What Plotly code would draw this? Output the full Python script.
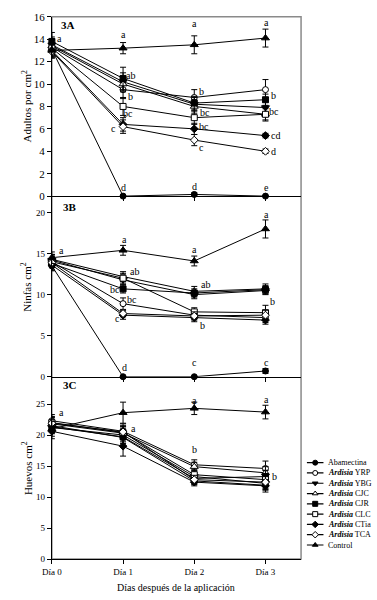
import plotly.graph_objects as go

# ---------------- data ----------------
days = [0, 1, 2, 3]
day_labels = ["Día 0", "Día 1", "Día 2", "Día 3"]

treatments = ["Abamectina", "YRP", "YBG", "CJC", "CJR", "CLC", "CTia", "TCA", "Control"]
legend_labels = ["Abamectina",
                 "<b><i>Ardisia</i></b> YRP", "<b><i>Ardisia</i></b> YBG",
                 "<b><i>Ardisia</i></b> CJC", "<b><i>Ardisia</i></b> CJR",
                 "<b><i>Ardisia</i></b> CLC", "<b><i>Ardisia</i></b> CTia",
                 "<b><i>Ardisia</i></b> TCA", "Control"]

# 3A  adults per cm2
adults = {
    "Abamectina": [13.1, 0.0, 0.15, 0.0],
    "YRP":        [13.3, 9.5, 8.8, 9.5],
    "YBG":        [13.5, 10.2, 8.2, 7.9],
    "CJC":        [13.4, 10.0, 8.0, 7.3],
    "CJR":        [13.8, 10.5, 8.3, 8.6],
    "CLC":        [13.2, 8.0, 7.0, 7.3],
    "CTia":       [13.0, 6.4, 6.0, 5.4],
    "TCA":        [12.9, 6.2, 5.0, 4.0],
    "Control":    [13.0, 13.2, 13.5, 14.1],
}
adults_err = {
    "Abamectina": [0.6, 0.05, 0.15, 0.05],
    "YRP":        [0.7, 0.8, 0.7, 0.9],
    "YBG":        [0.7, 0.8, 0.6, 0.5],
    "CJC":        [0.6, 0.7, 0.6, 0.6],
    "CJR":        [0.8, 1.0, 0.6, 0.5],
    "CLC":        [0.7, 0.8, 0.6, 0.5],
    "CTia":       [0.6, 0.6, 0.5, 0.2],
    "TCA":        [0.6, 0.6, 0.5, 0.2],
    "Control":    [0.6, 0.5, 0.8, 0.8],
}

# 3B  nymphs per cm2
nymphs = {
    "Abamectina": [13.5, 0.0, 0.0, 0.7],
    "YRP":        [14.0, 8.9, 7.5, 7.2],
    "YBG":        [14.2, 11.8, 10.0, 10.5],
    "CJC":        [14.3, 12.2, 10.4, 10.7],
    "CJR":        [13.8, 10.7, 10.2, 10.6],
    "CLC":        [14.0, 12.0, 7.9, 7.8],
    "CTia":       [13.6, 7.5, 7.2, 6.9],
    "TCA":        [13.9, 7.7, 7.4, 7.5],
    "Control":    [14.5, 15.4, 14.1, 18.0],
}
nymphs_err = {
    "Abamectina": [0.6, 0.05, 0.05, 0.3],
    "YRP":        [0.7, 0.7, 0.5, 0.6],
    "YBG":        [0.7, 0.6, 0.5, 0.5],
    "CJC":        [0.6, 0.6, 0.6, 0.6],
    "CJR":        [0.8, 0.5, 0.5, 0.5],
    "CLC":        [0.7, 0.6, 0.5, 0.9],
    "CTia":       [0.6, 0.5, 0.5, 0.5],
    "TCA":        [0.6, 0.4, 0.5, 0.6],
    "Control":    [0.7, 0.6, 0.6, 1.1],
}

# 3C  eggs per cm2
eggs = {
    "Abamectina": [21.5, 19.6, 12.6, 11.9],
    "YRP":        [22.3, 20.6, 15.2, 14.6],
    "YBG":        [21.2, 20.0, 13.3, 12.2],
    "CJC":        [21.8, 20.3, 14.9, 13.9],
    "CJR":        [21.3, 19.7, 13.0, 13.3],
    "CLC":        [22.0, 20.4, 13.6, 12.8],
    "CTia":       [20.6, 18.2, 12.4, 11.8],
    "TCA":        [21.9, 20.5, 12.8, 12.4],
    "Control":    [21.0, 23.6, 24.3, 23.7],
}
eggs_err = {
    "Abamectina": [1.0, 1.0, 0.6, 0.8],
    "YRP":        [1.0, 1.2, 0.8, 1.2],
    "YBG":        [1.0, 1.0, 0.7, 1.0],
    "CJC":        [1.0, 1.0, 0.7, 1.0],
    "CJR":        [1.0, 1.0, 0.7, 1.0],
    "CLC":        [1.0, 1.0, 0.7, 1.0],
    "CTia":       [1.2, 1.6, 0.6, 1.0],
    "TCA":        [1.0, 1.0, 0.7, 1.0],
    "Control":    [1.2, 1.7, 1.0, 1.1],
}

# significance letters: (day, value, letter)
letters_a = [(0.11, 14.07, "a"), (1.0, 14.42, "a"), (1.10, 10.75, "ab"), (1.11, 8.92, "b"),
             (1.07, 7.34, "bc"), (0.86, 6.03, "c"), (1.0, 0.79, "d"),
             (2.01, 15.4, "a"), (2.10, 9.33, "b"), (2.15, 7.43, "bc"), (2.14, 6.2, "bc"),
             (2.10, 4.37, "c"), (2.01, 0.9, "d"),
             (3.01, 15.45, "a"), (3.11, 8.94, "b"), (3.12, 7.58, "bc"), (3.14, 5.39, "cd"),
             (3.11, 4.02, "d"), (3.02, 0.73, "e")]
letters_b = [(0.13, 15.38, "a"), (1.02, 16.7, "a"), (1.16, 12.8, "ab"), (0.88, 10.6, "bc"),
             (1.13, 9.46, "bc"), (0.92, 7.07, "c"), (1.02, 1.1, "d"),
             (2.01, 15.5, "a"), (2.16, 11.2, "ab"), (2.12, 6.24, "b"), (2.01, 1.7, "c"),
             (3.02, 19.7, "a"), (3.10, 9.2, "b"), (3.02, 1.7, "c")]
letters_c = [(0.13, 23.7, "a"), (1.14, 21.05, "a"),
             (2.01, 25.5, "a"), (2.01, 17.6, "b"),
             (3.02, 25.8, "a"), (3.12, 13.3, "b")]

# ---------------- styles ----------------
FONT = "Liberation Serif, Times New Roman, serif"
symbols = {"Abamectina": ("circle", "black"), "YRP": ("circle", "white"),
           "YBG": ("triangle-down", "black"), "CJC": ("triangle-up", "white"),
           "CJR": ("square", "black"), "CLC": ("square", "white"),
           "CTia": ("diamond", "black"), "TCA": ("diamond", "white"),
           "Control": ("triangle-up", "black")}

W, H = 377, 600
PX0, PX1 = 43, 299
panels_px = [(11, 194), (194, 378.3), (378.3, 564.3)]


def ydom(top, bottom):
    return [1 - bottom / H, 1 - top / H]


fig = go.Figure()

panel_data = [(adults, adults_err), (nymphs, nymphs_err), (eggs, eggs_err)]
for p, (vals, errs) in enumerate(panel_data):
    xa = "x" if p == 0 else f"x{p+1}"
    ya = "y" if p == 0 else f"y{p+1}"
    for t in treatments:
        sym, col = symbols[t]
        fig.add_trace(go.Scatter(
            x=days, y=vals[t], xaxis=xa, yaxis=ya, mode="lines+markers",
            line=dict(color="black", width=1),
            marker=dict(symbol=sym, color=col, size=6 if "triangle" not in sym else 7,
                        line=dict(color="black", width=1)),
            error_y=dict(type="data", array=errs[t], color="black", thickness=1, width=3),
            cliponaxis=False, showlegend=False, hoverinfo="skip"))

# ---- manual legend (compact rows) ----
for i, t in enumerate(treatments):
    sym, col = symbols[t]
    yrow = 466 + 10.5 * i
    fig.add_trace(go.Scatter(x=[305, 322], y=[yrow, yrow], xaxis="x4", yaxis="y4",
                             mode="lines", line=dict(color="black", width=1.2),
                             showlegend=False, hoverinfo="skip"))
    fig.add_trace(go.Scatter(x=[313.5], y=[yrow], xaxis="x4", yaxis="y4", mode="markers",
                             marker=dict(symbol=sym, color=col, size=5,
                                         line=dict(color="black", width=1)),
                             showlegend=False, hoverinfo="skip"))
    fig.add_annotation(x=325, y=yrow, xref="x4", yref="y4", text=legend_labels[i],
                       showarrow=False, xanchor="left", yanchor="middle",
                       font=dict(family=FONT, size=8, color="black"))

xcommon = dict(domain=[PX0 / W, PX1 / W], range=[0, 3.5], tickvals=days, ticktext=day_labels,
               showline=True, linecolor="black", linewidth=1, ticks="outside", ticklen=4,
               tickcolor="black", showgrid=False, zeroline=False,
               tickfont=dict(family=FONT, size=9, color="black"))
ycommon = dict(showline=True, linecolor="black", linewidth=1, ticks="outside", ticklen=4,
               tickcolor="black", showgrid=False, zeroline=False)

fig.update_layout(
    width=W, height=H, margin=dict(l=0, r=0, t=0, b=0),
    paper_bgcolor="white", plot_bgcolor="rgba(0,0,0,0)",
    font=dict(family=FONT, color="black"),
    xaxis=dict(**xcommon, anchor="y", showticklabels=False),
    xaxis2=dict(**xcommon, anchor="y2", showticklabels=False),
    xaxis3=dict(**xcommon, anchor="y3", showticklabels=True),
    yaxis=dict(**ycommon, domain=ydom(*panels_px[0]), range=[0, 16], dtick=2, anchor="x",
               tickfont=dict(family=FONT, size=11, color="black")),
    yaxis2=dict(**ycommon, domain=ydom(*panels_px[1]), range=[0, 22],
                tickvals=[0, 5, 10, 15, 20], anchor="x2",
                tickfont=dict(family=FONT, size=9, color="black")),
    yaxis3=dict(**ycommon, domain=ydom(*panels_px[2]), range=[0, 29.4],
                tickvals=[0, 5, 10, 15, 20, 25], anchor="x3",
                tickfont=dict(family=FONT, size=9, color="black")),
    xaxis4=dict(domain=[PX1 / W, 1], range=[PX1, W], visible=False, anchor="y4"),
    yaxis4=dict(domain=[1 - 565 / H, 1 - 455 / H], range=[565, 455], visible=False, anchor="x4"),
)

# gray frame (top / right)
fig.add_shape(type="rect", xref="paper", yref="paper",
              x0=PX0 / W, x1=PX1 / W, y0=1 - panels_px[2][1] / H, y1=1 - panels_px[0][0] / H,
              line=dict(color="#8a8a8a", width=1.5), layer="below")

# letters
for p, lst in enumerate([letters_a, letters_b, letters_c]):
    xa = "x" if p == 0 else f"x{p+1}"
    ya = "y" if p == 0 else f"y{p+1}"
    for (xx, yy, tx) in lst:
        fig.add_annotation(x=xx, y=yy, xref=xa, yref=ya, text=tx, showarrow=False,
                           font=dict(family=FONT, size=10, color="black"))

# panel labels
for lab, (px, py) in zip(["3A", "3B", "3C"], [(50, 19.5), (52, 205), (52, 387)]):
    fig.add_annotation(x=px / W, y=1 - py / H, xref="paper", yref="paper", text=f"<b>{lab}</b>",
                       showarrow=False, xanchor="left", yanchor="middle",
                       font=dict(family=FONT, size=11, color="black"))

# axis titles
for lab, py in zip(["Adultos por cm<sup>2</sup>", "Ninfas cm<sup>2</sup>", "Huevos cm<sup>2</sup>"],
                   [103, 287, 472]):
    fig.add_annotation(x=17 / W, y=1 - py / H, xref="paper", yref="paper", text=lab,
                       textangle=-90, showarrow=False, xanchor="center", yanchor="middle",
                       font=dict(family=FONT, size=11, color="black"))

fig.add_annotation(x=171 / W, y=1 - 593 / H, xref="paper", yref="paper",
                   text="Días después de la aplicación", showarrow=False,
                   xanchor="center", yanchor="middle",
                   font=dict(family=FONT, size=10, color="black"))

fig.write_html("out.html", config={"displayModeBar": False, "displaylogo": False},
               post_script="document.body.style.margin='0';document.body.style.padding='0';")
